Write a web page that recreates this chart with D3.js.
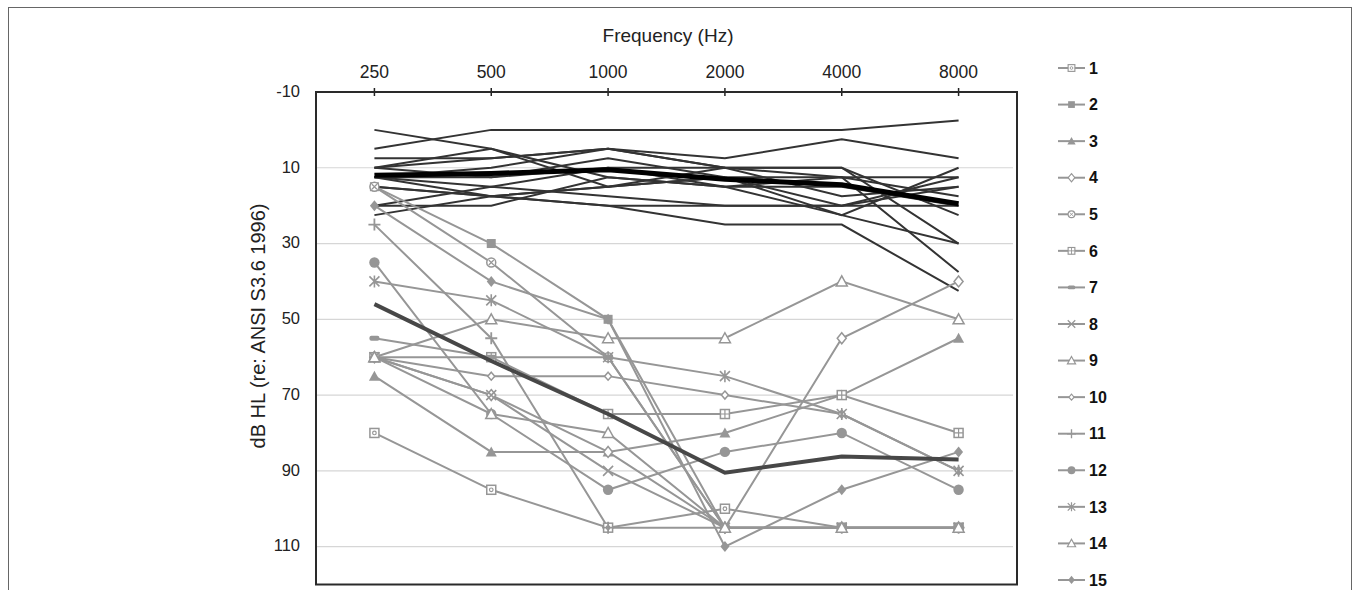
<!DOCTYPE html>
<html><head><meta charset="utf-8">
<script src="https://cdn.jsdelivr.net/npm/d3@7"></script>
<style>body{margin:0;background:#fff;} text{font-family:"Liberation Sans",Arial,Helvetica,sans-serif;}</style>
</head><body>
<script>
const freqs = ["250","500","1000","2000","4000","8000"];
const yTicks = [-10,10,30,50,70,90,110];
const gridTicks = [10,30,50,70,90,110];

// normal-hearing group (dark lines, no markers)
const normalLines = [
  [5, 0, 0, 0, 0, -2.5],
  [0, 5, 12.5, 15, 22.5, 30],
  [7.5, 7.5, 5, 7.5, 2.5, 7.5],
  [10, 7.5, 5, 10, 10, 30],
  [12.5, 10, 5, 10, 12.5, 37.5],
  [10, 12.5, 7.5, 12.5, 12.5, 12.5],
  [12.5, 15, 10, 10, 17.5, 15],
  [15, 17.5, 15, 12.5, 20, 12.5],
  [12.5, 12.5, 10, 15, 12.5, 17.5],
  [15, 17.5, 20, 20, 20, 15],
  [20, 20, 12.5, 15, 15, 20],
  [22.5, 17.5, 15, 12.5, 22.5, 10],
  [20, 15, 17.5, 20, 20, 20],
  [12.5, 17.5, 20, 25, 25, 42.5],
  [10, 5, 15, 10, 10, 22.5]
];
const normalMean = [12, 11.5, 10.5, 13, 14.5, 19.5];

// hearing-loss group (gray lines with markers), legend 1..15
const lossNames = ["1","2","3","4","5","6","7","8","9","10","11","12","13","14","15"];
const loss1  = [80, 95, 105, 100, 105, 105];
const loss2  = [15, 30, 50, 105, 105, 105];
const loss3  = [65, 85, 85, 80, 70, 55];
const loss4  = [60, 70, 85, 105, 55, 40];
const loss5  = [15, 35, 60, 105, 105, 105];
const loss6  = [60, 60, 75, 75, 70, 80];
const loss7  = [55, 60, 60, 105, 105, 105];
const loss8  = [60, 70, 90, 105, 105, 105];
const loss9  = [60, 50, 55, 55, 40, 50];
const loss10 = [60, 65, 65, 70, 75, 90];
const loss11 = [25, 55, 105, 105, 105, 105];
const loss12 = [35, 75, 95, 85, 80, 95];
const loss13 = [40, 45, 60, 65, 75, 90];
const loss14 = [60, 75, 80, 105, 105, 105];
const loss15 = [20, 40, 50, 110, 95, 85];
const lossSeries = [loss1,loss2,loss3,loss4,loss5,loss6,loss7,loss8,loss9,loss10,loss11,loss12,loss13,loss14,loss15];
const lossMean = [46, 61, 75, 90.5, 86.2, 87];

const markerTypes = ["sqcirc","sqfill","trifill","diamopen","circx","sqplus","dash","cross","triopen","diamsmall","plus","circfill","star","triopen","diamfill"];

const W = 1360, H = 590;
const pLeft = 316, pRight = 1017, pTop = 92, pBottom = 584.5;
const GRAY = "#969696";

const svg = d3.select("body").append("svg").attr("width", W).attr("height", H);
svg.append("rect").attr("x", 8.5).attr("y", 7.5).attr("width", 1343).attr("height", 620)
  .attr("fill", "none").attr("stroke", "#666").attr("stroke-width", 1);

const x = d3.scalePoint().domain(freqs).range([pLeft, pRight]).padding(0.5);
const y = d3.scaleLinear().domain([-10, 120]).range([pTop, pBottom]);

// grid
svg.append("g").selectAll("line").data(gridTicks).join("line")
  .attr("x1", pLeft).attr("x2", pRight - 4)
  .attr("y1", d => y(d)).attr("y2", d => y(d))
  .attr("stroke", "#d6d6d6").attr("stroke-width", 1.2);

// y tick labels
svg.append("g").selectAll("text").data(yTicks).join("text")
  .attr("x", 300).attr("y", d => y(d) - 1).attr("dy", "0.35em")
  .attr("text-anchor", "end").attr("font-size", 16.5).attr("fill", "#222")
  .text(d => d);

// x ticks + labels (top)
svg.append("g").selectAll("line").data(freqs).join("line")
  .attr("x1", d => x(d)).attr("x2", d => x(d)).attr("y1", pTop - 4).attr("y2", pTop + 4)
  .attr("stroke", "#222").attr("stroke-width", 1.5);
svg.append("g").selectAll("text").data(freqs).join("text")
  .attr("x", d => x(d)).attr("y", 78).attr("text-anchor", "middle")
  .attr("font-size", 17.5).attr("fill", "#222").text(d => d);

svg.append("text").attr("x", 668).attr("y", 42).attr("text-anchor", "middle")
  .attr("font-size", 19).attr("fill", "#222").text("Frequency (Hz)");
svg.append("text").attr("transform", "translate(258,326) rotate(-90)")
  .attr("text-anchor", "middle").attr("dy", "0.35em")
  .attr("font-size", 20).attr("fill", "#222").text("dB HL (re: ANSI S3.6 1996)");

const line = d3.line().x((d, i) => x(freqs[i])).y(d => y(d));

// normal lines
svg.append("g").selectAll("path").data(normalLines).join("path")
  .attr("d", line).attr("fill", "none").attr("stroke", "#333").attr("stroke-width", 2);
svg.append("path").attr("d", line(normalMean)).attr("fill", "none")
  .attr("stroke", "#000").attr("stroke-width", 5);

// loss lines
svg.append("g").selectAll("path").data(lossSeries).join("path")
  .attr("d", line).attr("fill", "none").attr("stroke", GRAY).attr("stroke-width", 2);

function drawMarker(g, type, cx, cy, s) {
  const st = GRAY, sw = 1.5;
  const gg = g.append("g").attr("transform", `translate(${cx},${cy}) scale(${s})`);
  const r = 4.5;
  switch (type) {
    case "sqcirc":
      gg.append("rect").attr("x", -r).attr("y", -r).attr("width", 2*r).attr("height", 2*r).attr("fill", "#fff").attr("stroke", st).attr("stroke-width", sw);
      gg.append("circle").attr("r", 1.8).attr("fill", "none").attr("stroke", st).attr("stroke-width", 1.2);
      break;
    case "sqfill":
      gg.append("rect").attr("x", -r).attr("y", -r).attr("width", 2*r).attr("height", 2*r).attr("fill", st);
      break;
    case "trifill":
      gg.append("path").attr("d", `M0,${-r-1}L${r+1},${r}L${-r-1},${r}Z`).attr("fill", st);
      break;
    case "triopen":
      gg.append("path").attr("d", `M0,${-r-1}L${r+1},${r}L${-r-1},${r}Z`).attr("fill", "#fff").attr("stroke", st).attr("stroke-width", sw);
      break;
    case "diamopen":
      gg.append("path").attr("d", `M0,${-r-1}L${r},0L0,${r+1}L${-r},0Z`).attr("fill", "#fff").attr("stroke", st).attr("stroke-width", sw);
      break;
    case "diamsmall":
      gg.append("path").attr("d", `M0,-4L3.5,0L0,4L-3.5,0Z`).attr("fill", "#fff").attr("stroke", st).attr("stroke-width", sw);
      break;
    case "diamfill":
      gg.append("path").attr("d", `M0,${-r-1}L${r},0L0,${r+1}L${-r},0Z`).attr("fill", st);
      break;
    case "circx":
      gg.append("circle").attr("r", r).attr("fill", "#fff").attr("stroke", st).attr("stroke-width", sw);
      gg.append("path").attr("d", "M-2.5,-2.5L2.5,2.5M2.5,-2.5L-2.5,2.5").attr("stroke", st).attr("stroke-width", 1.2);
      break;
    case "sqplus":
      gg.append("rect").attr("x", -r).attr("y", -r).attr("width", 2*r).attr("height", 2*r).attr("fill", "#fff").attr("stroke", st).attr("stroke-width", sw);
      gg.append("path").attr("d", `M0,${-r}L0,${r}M${-r},0L${r},0`).attr("stroke", st).attr("stroke-width", 1.2);
      break;
    case "dash":
      gg.append("rect").attr("x", -5).attr("y", -2.5).attr("width", 10).attr("height", 5).attr("rx", 2).attr("fill", st);
      break;
    case "cross":
      gg.append("path").attr("d", "M-5,-5L5,5M5,-5L-5,5").attr("stroke", st).attr("stroke-width", 1.6);
      break;
    case "plus":
      gg.append("path").attr("d", "M0,-6L0,6M-6,0L6,0").attr("stroke", st).attr("stroke-width", 1.8);
      break;
    case "circfill":
      gg.append("circle").attr("r", r + 0.7).attr("fill", st);
      break;
    case "star":
      gg.append("path").attr("d", "M-5,-5L5,5M5,-5L-5,5M0,-6L0,6").attr("stroke", st).attr("stroke-width", 1.6);
      break;
  }
}

const mg = svg.append("g");
lossSeries.forEach((s, k) => {
  s.forEach((v, i) => drawMarker(mg, markerTypes[k], x(freqs[i]), y(v), 1));
});

svg.append("path").attr("d", line(lossMean)).attr("fill", "none")
  .attr("stroke", "#474747").attr("stroke-width", 4);

// plot border
svg.append("rect").attr("x", pLeft).attr("y", pTop).attr("width", pRight - pLeft).attr("height", pBottom - pTop)
  .attr("fill", "none").attr("stroke", "#2a2a2a").attr("stroke-width", 2);

// legend
const lg = svg.append("g");
lossNames.forEach((n, k) => {
  const ly = 68 + k * 36.57;
  lg.append("line").attr("x1", 1058).attr("x2", 1085).attr("y1", ly).attr("y2", ly)
    .attr("stroke", GRAY).attr("stroke-width", 2);
  drawMarker(lg, markerTypes[k], 1071.5, ly, 0.75);
  lg.append("text").attr("x", 1089).attr("y", ly).attr("dy", "0.36em")
    .attr("font-size", 16).attr("font-weight", "bold").attr("fill", "#111").text(n);
});
</script>
</body></html>
